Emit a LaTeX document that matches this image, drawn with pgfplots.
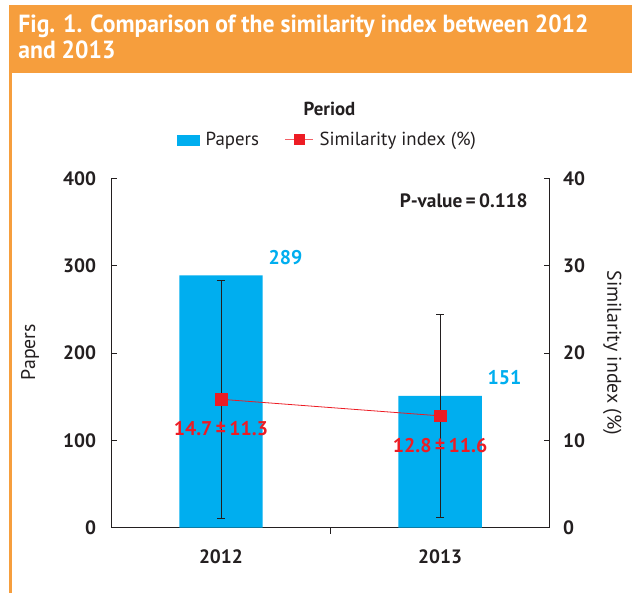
\documentclass[border=0pt]{standalone}
\usepackage{pgfplots}
\pgfplotsset{compat=1.18}
\usepackage{fontspec}
\setmainfont{PT Sans}
\definecolor{hdr}{RGB}{246,158,61}
\definecolor{barc}{RGB}{0,174,239}
\definecolor{linec}{RGB}{237,28,36}
\definecolor{txt}{RGB}{35,31,32}
\newlength\tw
\newcommand\titlefont{\fontsize{25bp}{25bp}\selectfont\bfseries}
\newcommand\tickfont{\fontsize{19.5bp}{19.5bp}\selectfont\bfseries}
\newcommand\labfont{\fontsize{20bp}{20bp}\selectfont}
\pgfplotsset{
  common/.style={
    at={(107bp,66bp)}, anchor=south west, scale only axis,
    width=442bp, height=352bp, xmin=-0.5, xmax=1.5,
    tick align=inside, major tick length=6bp,
    axis line style={draw=txt, line width=1.1bp},
    tick style={draw=txt, line width=1bp},
    ticklabel style={font=\tickfont, text=txt},
    /pgf/number format/assume math mode=true,
    label style={font=\labfont, text=txt},
  }
}
\begin{document}
\settowidth{\tw}{\titlefont Fig. 1. Comparison of the similarity index between 2012}
\pgfmathsetmacro\sx{577.16/\tw}
\begin{tikzpicture}
\path[use as bounding box, fill=white] (0,0) rectangle (632bp,598bp);
\fill[hdr] (4bp,524bp) rectangle (632bp,593bp);
\fill[hdr] (4bp,0) rectangle (7bp,524bp);
\node[anchor=base west, inner sep=0, text=white] at (13bp,565bp) {\scalebox{\sx}[1]{\titlefont Fig. 1. Comparison of the similarity index between 2012}};
\node[anchor=base west, inner sep=0, text=white] at (13bp,539bp) {\scalebox{\sx}[1]{\titlefont and 2013}};

\begin{axis}[common,
  ymin=0, ymax=400,
  axis y line*=left, axis x line*=bottom,
  xtick={0.5}, xticklabels={},
  extra x ticks={0,1}, extra x tick labels={2012,2013},
  extra x tick style={major tick length=0pt, xticklabel style={yshift=-19bp}},
  ytick={0,100,...,400},
  yticklabel style={xshift=-12bp},
  ylabel={Papers},
  ylabel style={at={(axis description cs:-0.1855,0.503)}, anchor=center},
  ybar, bar width=84bp,
]
\addplot[fill=barc, draw=none, nodes near coords,
  nodes near coords style={text=barc, font=\fontsize{20bp}{20bp}\selectfont\bfseries, anchor=center, xshift=65bp, yshift=18bp}]
  coordinates {(0,289) (1,151)};
\end{axis}

\begin{axis}[common,
  ymin=0, ymax=40,
  axis y line*=right, axis x line=none,
  ytick={0,10,...,40},
  yticklabel style={xshift=10bp},
  ylabel={Similarity index (\%)},
  ylabel style={at={(axis description cs:1.1425,0.5)}, anchor=center, rotate=180},
  legend style={at={(axis description cs:0.497,1.111)}, anchor=center, draw=none, fill=none,
    legend columns=2, font=\fontsize{19bp}{19bp}\selectfont, text=txt,
    nodes={inner xsep=6bp},
    /tikz/every even column/.append style={column sep=20bp}},
]
\addlegendimage{legend image code/.code={\fill[barc] (0bp,-5bp) rectangle (23bp,5bp);}}
\addlegendentry{Papers}
\addplot[linec, line width=0.8bp, mark=square*, mark size=6bp,
  mark options={fill=linec, draw=linec},
  legend image code/.code={\draw[linec!70, line width=1bp] (0bp,0bp) -- (28bp,0bp); \fill[linec] (9bp,-5bp) rectangle (19bp,5bp);},
  error bars/.cd, y dir=both, y explicit,
  error bar style={draw=txt, line width=0.8bp},
  error mark options={rotate=90, mark size=4bp, draw=txt, line width=0.8bp}]
  coordinates {(0,14.7) +- (0,13.6) (1,12.8) +- (0,11.6)};
\addlegendentry{Similarity index (\%)}
\addplot[draw=none, mark=none, forget plot, nodes near coords, point meta=explicit symbolic,
  nodes near coords style={anchor=center, yshift=-30bp, text=linec, font=\fontsize{20bp}{20bp}\selectfont\bfseries}]
  coordinates {(0,14.7) [14.7\,±\,11.3] (1,12.8) [12.8\,±\,11.6]};
\end{axis}

\node[font=\fontsize{19bp}{19bp}\selectfont\bfseries, text=txt] at (327bp,488bp) {Period};
\node[anchor=base east, inner sep=0, font=\fontsize{19.5bp}{19.5bp}\selectfont\bfseries, text=txt] at (527bp,389bp) {P-value\,=\,0.118};
\end{tikzpicture}
\end{document}
